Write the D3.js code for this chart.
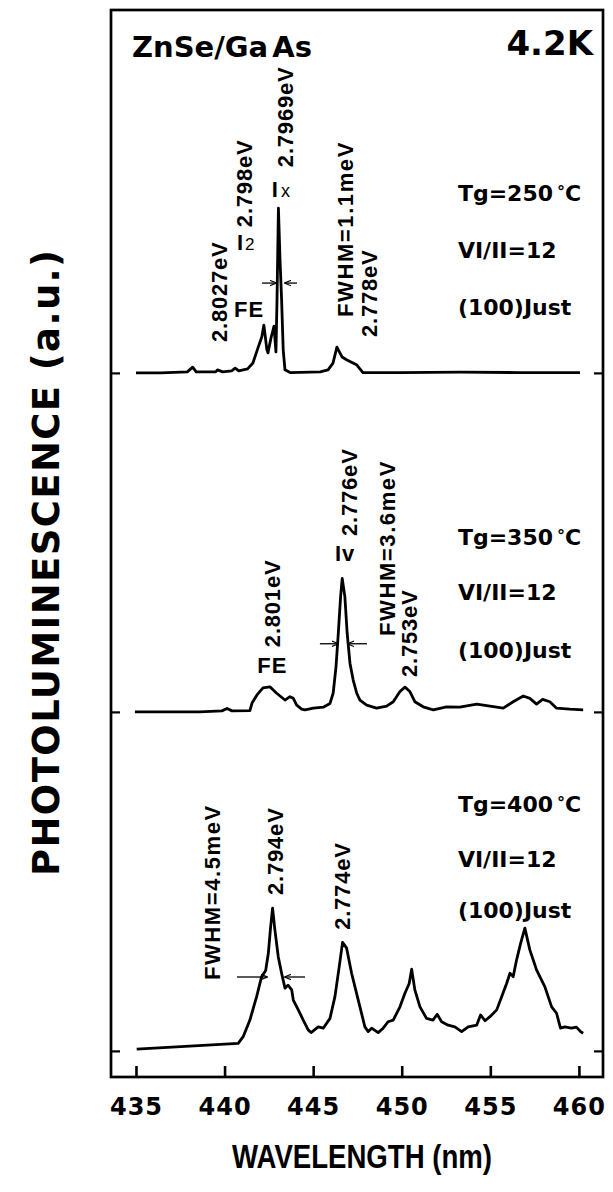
<!DOCTYPE html>
<html>
<head>
<meta charset="utf-8">
<title>ZnSe/GaAs PL 4.2K</title>
<script src="https://cdn.jsdelivr.net/npm/d3@7"></script>
<style>
    body { margin: 0; background: #fff; }
    #chart-area { width: 613px; height: 1192px; }
    text { fill: #000; }
</style>
</head>
<body>
<div id="chart-area"></div>
<script>

// ---- data ----
const xTicks = [435, 440, 445, 450, 455, 460];
const panelOffsets = [200, 100, 0];          // vertical shift of each spectrum, a.u.
const growthTemps = [250, 350, 400];
const ratioText = "VI/II=12";
const orientText = "(100)Just";

// [wavelength nm, intensity a.u.]  Tg = 250C
const spec250 = [
    [435.0, 0], [436.4, 0], [437.9, 0.3], [438.2, 1.7], [438.4, 0.3], [439.5, 0.3], [439.6, 0.9],
    [439.9, 0.3], [440.4, 0.6], [440.6, 1.4], [440.8, 0.6], [441.3, 1.2], [441.6, 2.9], [441.9, 7.6],
    [442.1, 10.6], [442.22, 14.1], [442.39, 6.8], [442.45, 5.9], [442.62, 10.3], [442.79, 13.8],
    [442.9, 6.2], [442.96, 21.5], [443.04, 48.6], [443.13, 33.3], [443.22, 21.5], [443.31, 6.8],
    [443.41, 0.9], [443.7, 0.1], [445.4, 0.3], [445.84, 0.9], [446.12, 2.9], [446.34, 7.6],
    [446.63, 4.7], [446.91, 3.8], [447.25, 2.9], [447.47, 2.3], [447.64, 1.2], [447.81, 0.1],
    [449.9, 0.1], [453.3, 0.2], [456.7, 0.1], [460.06, 0.1]
];

// Tg = 350C
const spec350 = [
    [434.94, 0], [438.6, 0], [439.85, 0.3], [440.14, 1.0], [440.42, 0.3], [441.43, 0.4], [441.55, 2.6],
    [441.83, 5.0], [442.17, 7.1], [442.56, 7.4], [442.94, 5.5], [443.41, 3.5], [443.69, 4.5],
    [443.88, 4.0], [444.07, 2.0], [444.35, 0.8], [444.54, 0.6], [445.01, 1.1], [445.57, 1.4],
    [445.95, 2.5], [446.13, 5.5], [446.29, 13.3], [446.42, 23.2], [446.55, 34.0], [446.64, 39.4],
    [446.79, 34.0], [446.92, 23.2], [447.08, 14.3], [447.26, 9.4], [447.46, 5.5], [447.64, 3.5],
    [448.02, 2.0], [448.58, 1.1], [449.15, 1.7], [449.52, 3.0], [449.9, 6.0], [450.18, 7.3],
    [450.46, 6.0], [450.74, 3.0], [451.21, 1.5], [451.78, 0.6], [452.53, 1.5], [453.28, 1.4],
    [454.23, 2.3], [454.98, 1.7], [455.73, 1.1], [456.29, 3.0], [456.86, 4.7], [457.23, 4.0],
    [457.61, 2.3], [457.95, 3.7], [458.36, 3.0], [458.74, 1.1], [459.49, 0.8], [460.24, 0.6]
];

// Tg = 400C
const spec400 = [
    [435.04, 0.5], [440.77, 2.2], [441.05, 4.2], [441.43, 9.1], [441.81, 16.0], [442.09, 21.9],
    [442.32, 23.7], [442.47, 28.8], [442.6, 36.6], [442.71, 42.1], [442.84, 35.7], [443.03, 27.8],
    [443.22, 22.9], [443.41, 18.5], [443.58, 19.4], [443.79, 18.0], [443.88, 15.0], [444.16, 12.1],
    [444.44, 9.1], [444.72, 6.2], [444.88, 5.4], [445.29, 7.1], [445.57, 6.7], [445.95, 9.6],
    [446.23, 16.0], [446.47, 24.8], [446.66, 32.0], [446.89, 30.3], [447.17, 22.9], [447.36, 18.9],
    [447.64, 13.0], [447.92, 7.1], [448.11, 5.7], [448.3, 6.7], [448.67, 5.4], [448.95, 6.7],
    [449.23, 8.6], [449.52, 9.1], [449.9, 13.0], [450.18, 17.0], [450.42, 19.9], [450.56, 24.1],
    [450.74, 18.0], [451.03, 13.0], [451.4, 9.6], [451.77, 9.1], [452.0, 10.8], [452.25, 8.6],
    [452.62, 7.6], [453.0, 7.1], [453.38, 5.7], [453.75, 7.1], [454.23, 7.6], [454.45, 10.6],
    [454.7, 8.9], [454.98, 10.1], [455.36, 12.1], [455.64, 16.0], [455.92, 19.9], [456.11, 22.9],
    [456.29, 21.9], [456.48, 26.8], [456.71, 31.7], [456.95, 36.2], [457.23, 29.8], [457.61, 23.9],
    [458.08, 18.9], [458.46, 13.0], [458.74, 11.1], [458.96, 6.7], [459.21, 7.1], [459.58, 6.7],
    [459.86, 7.0], [460.09, 5.7], [460.24, 5.2]
];

// vertical peak labels: text, wavelength, a.u. (start of the text)
const peakLabels = [
    {text: "2.8027eV", nm: 440.14, v: 209.1},
    {text: "2.798eV", nm: 441.55, v: 243.0},
    {text: "2.7969eV", nm: 443.86, v: 260.7},
    {text: "FWHM=1.1meV", nm: 447.25, v: 216.5},
    {text: "2.778eV", nm: 448.60, v: 210.6},
    {text: "2.801eV", nm: 443.13, v: 119.1},
    {text: "2.776eV", nm: 447.47, v: 151.9},
    {text: "FWHM=3.6meV", nm: 449.62, v: 122.4},
    {text: "2.753eV", nm: 450.86, v: 110.3},
    {text: "FWHM=4.5meV", nm: 439.74, v: 20.9},
    {text: "2.794eV", nm: 443.30, v: 46.0},
    {text: "2.774eV", nm: 447.08, v: 35.7}
];

// upright line names
const lineNames = [
    {main: "FE", sub: "", nm: 441.38, v: 216.5, anchor: "middle"},
    {main: "I", sub: "2", nm: 440.70, v: 236.2, anchor: "start"},
    {main: "I", sub: "x", nm: 442.67, v: 251.9, anchor: "start"},
    {main: "FE", sub: "", nm: 442.70, v: 111.5, anchor: "middle"},
    {main: "Iv", sub: "", nm: 446.23, v: 144.4, anchor: "start"}
];

// FWHM arrows: from -> to (nm) at a.u. level
const fwhmArrows = [
    {v: 226.5, from: 442.11, to: 442.90}, {v: 226.5, from: 444.09, to: 443.41},
    {v: 120.1, from: 445.38, to: 446.40}, {v: 120.1, from: 448.04, to: 446.96},
    {v: 21.8, from: 440.70, to: 442.39}, {v: 21.8, from: 444.54, to: 443.41}
];

// a.u. level of the three condition lines in each panel
const infoRows = [[250.7, 233.9, 217.1], [149.2, 133.1, 115.9], [70.5, 54.3, 39.2]];


class PLVis {

    constructor(parentElement, spectra) {
        this.parentElement = parentElement;
        this.spectra = spectra;

        this.initVis();
    }

    initVis() {
        let vis = this;

        vis.margin = {top: 10, right: 10, bottom: 115, left: 111};
        vis.width = 613 - vis.margin.left - vis.margin.right;
        vis.height = 1192 - vis.margin.top - vis.margin.bottom;

        vis.svgRoot = d3.select("#" + vis.parentElement).append("svg")
            .attr("width", 613)
            .attr("height", 1192);

        vis.svg = vis.svgRoot.append("g")
            .attr("transform", `translate(${vis.margin.left}, ${vis.margin.top})`);

        // scales
        vis.x = d3.scaleLinear()
            .domain([433.59, 461.36])
            .range([0, vis.width]);

        vis.y = d3.scaleLinear()
            .domain([-7.7, 307.05])
            .range([vis.height, 0]);

        vis.line = d3.line()
            .x(d => vis.x(d[0]))
            .y(d => vis.y(d[1] + d.offset));

        // arrow head
        vis.svgRoot.append("defs").append("marker")
            .attr("id", "head")
            .attr("viewBox", "0 0 10 10")
            .attr("refX", 9)
            .attr("refY", 5)
            .attr("markerWidth", 7)
            .attr("markerHeight", 7)
            .attr("markerUnits", "userSpaceOnUse")
            .attr("orient", "auto")
            .append("path")
            .attr("d", "M0,1 L10,5 L0,9")
            .attr("fill", "none")
            .attr("stroke", "#000")
            .attr("stroke-width", 1.6);

        vis.wrangleData();
    }

    wrangleData() {
        let vis = this;

        // attach offsets so every spectrum sits on its own baseline
        vis.displayData = vis.spectra.map((s, i) => {
            let pts = s.map(p => {
                let q = [p[0], p[1]];
                q.offset = panelOffsets[i];
                return q;
            });
            return pts;
        });

        vis.updateVis();
    }

    updateVis() {
        let vis = this;

        // spectra
        vis.svg.selectAll(".spectrum")
            .data(vis.displayData)
            .enter()
            .append("path")
            .attr("class", "spectrum")
            .attr("d", vis.line)
            .attr("fill", "none")
            .attr("stroke", "#000")
            .attr("stroke-width", 2.8)
            .attr("stroke-linejoin", "round");

        // frame
        vis.svg.append("rect")
            .attr("width", vis.width)
            .attr("height", vis.height)
            .attr("fill", "none")
            .attr("stroke", "#000")
            .attr("stroke-width", 2.7);

        // x axis, ticks pointing inward
        let xAxis = d3.axisBottom(vis.x)
            .tickValues(xTicks)
            .tickSize(-11)
            .tickSizeOuter(0)
            .tickPadding(21)
            .tickFormat(d3.format("d"));

        let xg = vis.svg.append("g")
            .attr("transform", `translate(0, ${vis.height})`)
            .call(xAxis);
        xg.select(".domain").remove();
        xg.selectAll("line").attr("stroke-width", 2.6);
        xg.selectAll("text")
            .attr("font-family", "'DejaVu Sans', sans-serif")
            .attr("font-weight", "bold")
            .attr("font-size", 24)
            .attr("letter-spacing", 1);

        // baseline ticks on both sides
        let yLeft = d3.axisLeft(vis.y).tickValues(panelOffsets).tickSize(-9).tickFormat("");
        let yRight = d3.axisRight(vis.y).tickValues(panelOffsets).tickSize(-9).tickFormat("");

        let ygl = vis.svg.append("g").call(yLeft);
        let ygr = vis.svg.append("g").attr("transform", `translate(${vis.width}, 0)`).call(yRight);
        [ygl, ygr].forEach(g => {
            g.select(".domain").remove();
            g.selectAll("line").attr("stroke-width", 2.2);
        });

        // vertical peak labels
        vis.svg.selectAll(".peak-label")
            .data(peakLabels)
            .enter()
            .append("text")
            .attr("class", "peak-label")
            .attr("transform", d => `translate(${vis.x(d.nm)}, ${vis.y(d.v)}) rotate(-90)`)
            .attr("font-family", "'Liberation Sans', Arial, sans-serif")
            .attr("font-weight", "bold")
            .attr("font-size", 22)
            .attr("letter-spacing", d => d.text.startsWith("FWHM") ? 1.6 : 0.8)
            .text(d => d.text);

        // line names (FE, I2, Ix, Iv)
        let names = vis.svg.selectAll(".line-name")
            .data(lineNames)
            .enter()
            .append("text")
            .attr("class", "line-name")
            .attr("x", d => vis.x(d.nm))
            .attr("y", d => vis.y(d.v))
            .attr("text-anchor", d => d.anchor)
            .attr("font-family", "'Liberation Sans', Arial, sans-serif")
            .attr("font-weight", "bold")
            .attr("font-size", 22)
            .attr("letter-spacing", 1);

        names.append("tspan").text(d => d.main);
        names.filter(d => d.sub === "2").append("tspan")
            .attr("dx", 1)
            .attr("font-size", 17)
            .attr("font-weight", "normal")
            .text(d => d.sub);
        names.filter(d => d.sub === "x").append("tspan")
            .attr("dx", 2)
            .attr("font-size", 18)
            .attr("font-weight", "normal")
            .text(d => d.sub);

        // FWHM arrows
        vis.svg.selectAll(".fwhm")
            .data(fwhmArrows)
            .enter()
            .append("line")
            .attr("class", "fwhm")
            .attr("x1", d => vis.x(d.from))
            .attr("x2", d => vis.x(d.to))
            .attr("y1", d => vis.y(d.v))
            .attr("y2", d => vis.y(d.v))
            .attr("stroke", "#000")
            .attr("stroke-width", 1.3)
            .attr("marker-end", "url(#head)");

        // growth conditions on the right
        let infoX = vis.x(453.17);
        infoRows.forEach((rows, i) => {
            let tg = vis.svg.append("text")
                .attr("x", infoX)
                .attr("y", vis.y(rows[0]))
                .attr("class", "info");
            tg.append("tspan").text("Tg=" + growthTemps[i]);
            tg.append("tspan").attr("dx", 4).attr("dy", -4).attr("font-size", 16).text("°");
            tg.append("tspan").attr("dy", 4).text("C");

            vis.svg.append("text")
                .attr("x", infoX)
                .attr("y", vis.y(rows[1]))
                .attr("class", "info")
                .text(ratioText);

            vis.svg.append("text")
                .attr("x", infoX)
                .attr("y", vis.y(rows[2]))
                .attr("class", "info")
                .text(orientText);
        });
        vis.svg.selectAll(".info")
            .attr("font-family", "'DejaVu Sans', sans-serif")
            .attr("font-weight", "bold")
            .attr("font-size", 22);

        // title texts
        let title = vis.svgRoot.append("text")
            .attr("x", 132)
            .attr("y", 57)
            .attr("font-family", "'DejaVu Sans', sans-serif")
            .attr("font-weight", "bold")
            .attr("font-size", 29);
        title.append("tspan").text("ZnSe/Ga");
        title.append("tspan").attr("dx", 4).text("As");

        vis.svgRoot.append("text")
            .attr("x", 593)
            .attr("y", 55)
            .attr("text-anchor", "end")
            .attr("font-family", "'DejaVu Sans', sans-serif")
            .attr("font-weight", "bold")
            .attr("font-size", 34)
            .text("4.2K");

        // axis titles
        vis.svgRoot.append("text")
            .attr("transform", "translate(59, 563) rotate(-90)")
            .attr("text-anchor", "middle")
            .attr("font-family", "'DejaVu Sans', sans-serif")
            .attr("font-weight", "bold")
            .attr("font-size", 37)
            .attr("textLength", 626)
            .attr("lengthAdjust", "spacing")
            .text("PHOTOLUMINESCENCE (a.u.)");

        vis.svgRoot.append("text")
            .attr("x", 362)
            .attr("y", 1168)
            .attr("text-anchor", "middle")
            .attr("font-family", "'Liberation Sans', Arial, sans-serif")
            .attr("font-weight", "bold")
            .attr("font-size", 33)
            .attr("textLength", 260)
            .attr("lengthAdjust", "spacingAndGlyphs")
            .text("WAVELENGTH (nm)");
    }
}

let plVis = new PLVis("chart-area", [spec250, spec350, spec400]);

</script>
</body>
</html>
